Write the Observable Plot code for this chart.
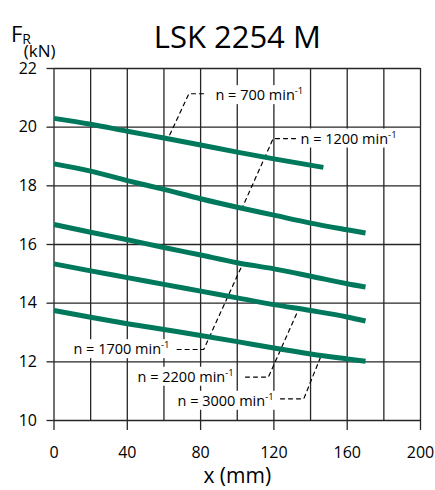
<!DOCTYPE html>
<html><head><meta charset="utf-8">
<script src="https://cdn.jsdelivr.net/npm/d3@7"></script>
<script src="https://cdn.jsdelivr.net/npm/@observablehq/plot@0.6"></script>
<style>body{margin:0;background:#fff;} svg{display:block;}</style>
</head><body><div id="chart"></div>
<script>
// ---- data ----
const speeds = [700, 1200, 1700, 2200, 3000];
const x700  = [0, 20, 40, 60, 80, 100, 120, 147];
const f700  = [20.30, 20.10, 19.86, 19.63, 19.39, 19.15, 18.92, 18.63];
const xLong = [0, 20, 40, 60, 80, 100, 120, 140, 160, 170];
const f1200 = [18.75, 18.50, 18.18, 17.88, 17.56, 17.27, 17.00, 16.73, 16.50, 16.39];
const f1700 = [16.68, 16.42, 16.16, 15.90, 15.64, 15.38, 15.17, 14.92, 14.66, 14.55];
const f2200 = [15.34, 15.10, 14.87, 14.64, 14.41, 14.18, 13.95, 13.75, 13.53, 13.39];
const f3000 = [13.75, 13.52, 13.30, 13.10, 12.90, 12.69, 12.47, 12.27, 12.10, 12.02];
const xTicks = [0, 40, 80, 120, 160, 200];
const xGrid  = [0, 20, 40, 60, 80, 100, 120, 140, 160, 180, 200];
const yTicks = [10, 12, 14, 16, 18, 20, 22];
const title = "LSK 2254 M";
const xLabel = "x (mm)";
const yLabel = "F";
const yLabelSub = "R";
const yUnit = "(kN)";
// annotation anchors (data units): label start, and leader polyline
const labelX = [88.1, 134.5, 10.6, 45.6, 67.4];
const labelY = [21.08, 19.60, 12.42, 11.48, 10.66];
const leaderX = [[81.6, 73.6, 62.6], [131.8, 119.6, 102.7], [67.2, 81.7, 102.7], [104.5, 117.0, 133.6], [123.6, 136.3, 145.4]];
const leaderY = [[21.14, 21.14, 19.66], [19.61, 19.61, 17.25], [12.42, 12.42, 15.30], [11.48, 11.48, 13.81], [10.74, 10.74, 12.15]];

// ---- build tables ----
const series = [[x700, f700], [xLong, f1200], [xLong, f1700], [xLong, f2200], [xLong, f3000]];
const curves = speeds.flatMap((s, i) => series[i][0].map((x, j) => ({speed: s, x, y: series[i][1][j]})));
const leaders = speeds.flatMap((s, i) => leaderX[i].map((x, j) => ({speed: s, x, y: leaderY[i][j]})));
const labels = speeds.map((s, i) => ({speed: s, x: labelX[i], y: labelY[i]}));

const green = "#00785c";
const gridColor = "#262626";
const NS = "http://www.w3.org/2000/svg";

const chart = Plot.plot({
  width: 435, height: 490,
  marginTop: 68, marginLeft: 53.5, marginRight: 15, marginBottom: 70,
  style: {fontFamily: "'Open Sans', sans-serif", background: "#fff", color: "#000", fontWeight: 400},
  x: {domain: [0, 200]},
  y: {domain: [10, 22]},
  marks: [
    Plot.ruleX(xGrid, {stroke: gridColor, strokeWidth: 1.3}),
    Plot.ruleY(yTicks, {stroke: gridColor, strokeWidth: 1.3}),
    Plot.axisX({ticks: xTicks, tickSize: 10, tickPadding: 16, fontSize: 16, label: null, stroke: gridColor, strokeWidth: 1.3, fill: "#000"}),
    Plot.axisY({ticks: yTicks, tickSize: 7, tickPadding: 10, fontSize: 16, label: null, stroke: gridColor, strokeWidth: 1.3, fill: "#000"}),
    Plot.line(leaders, {x: "x", y: "y", z: "speed", stroke: "#000", strokeWidth: 1.2, strokeDasharray: "4,4"}),
    Plot.line(curves, {x: "x", y: "y", z: "speed", stroke: green, strokeWidth: 5, curve: "monotone-x", strokeLinecap: "butt"}),
    Plot.text(labels, {x: "x", y: "y", text: d => `n = ${d.speed} min`, textAnchor: "start", fontSize: 14.5, fill: "#000", className: "nlabel"}),
    Plot.text([title], {frameAnchor: "top", dy: -43, fontSize: 31, fill: "#000"}),
    Plot.text([yLabel], {frameAnchor: "top-left", textAnchor: "start", dx: -43, dy: -42.5, fontSize: 22, fill: "#000", className: "flabel"}),
    Plot.text([yUnit], {frameAnchor: "top-left", dx: -30.2, dy: -24, fontSize: 17, fill: "#000"}),
    Plot.text([xLabel], {frameAnchor: "bottom", dy: 62, fontSize: 21, fill: "#000"})
  ]
});
document.getElementById("chart").appendChild(chart);

// subscript R on F
chart.querySelectorAll("g.flabel text").forEach(t => {
  const sub = document.createElementNS(NS, "tspan");
  sub.textContent = yLabelSub;
  sub.setAttribute("font-size", "14");
  sub.setAttribute("dy", "2.4");
  t.appendChild(sub);
});

// superscript "-1" and white boxes behind the speed labels
chart.querySelectorAll("g.nlabel text").forEach(t => {
  const sup = document.createElementNS(NS, "tspan");
  sup.textContent = "-1";
  sup.setAttribute("font-size", "9.5");
  sup.setAttribute("dy", "-6");
  t.appendChild(sup);
  const bb = t.getBBox();
  const r = document.createElementNS(NS, "rect");
  r.setAttribute("x", bb.x - 2); r.setAttribute("y", bb.y + 1);
  r.setAttribute("width", bb.width + 4); r.setAttribute("height", bb.height - 1);
  r.setAttribute("fill", "#fff");
  const tr = t.getAttribute("transform");
  if (tr) r.setAttribute("transform", tr);
  t.parentNode.insertBefore(r, t);
});
</script>
</body></html>
